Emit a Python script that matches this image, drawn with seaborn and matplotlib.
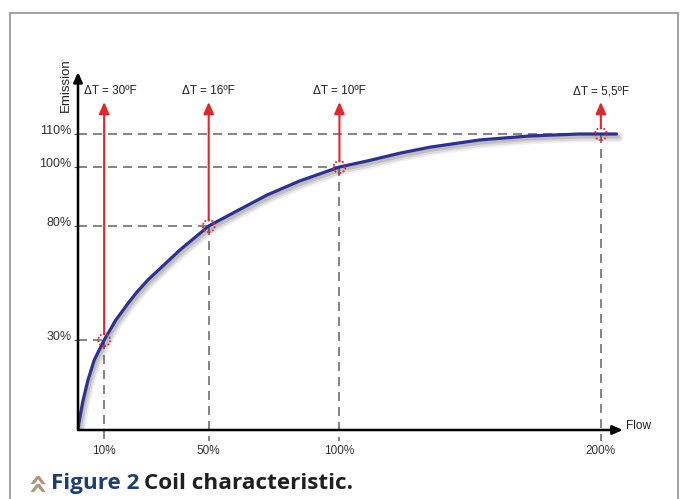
import numpy as np
import pandas as pd
import matplotlib
matplotlib.use('Agg')
import matplotlib.pyplot as plt
import matplotlib.patheffects as pe
from matplotlib.patches import Rectangle
import seaborn as sns

# data
flow_curve = [0, 0.27, 1.8, 3.7, 6.2, 10, 14.5, 19.6, 22.6, 26.7, 39, 50, 59.3,
              72.3, 84.9, 100, 110.5, 123.2, 134.6, 153.7, 172.8, 191.9, 200, 206]
emission_curve = [0, 2.0, 9.3, 16.3, 23.3, 30, 38.8, 46.8, 51.1, 56.3, 69.5, 80,
                  84.4, 90.5, 95.3, 100, 101.8, 104.2, 106, 108.2, 109.4, 110,
                  110, 110]

flow_pts = [10, 50, 100, 200]
emission_pts = [30, 80, 100, 110]
dt_labels = ['ΔT = 30ºF', 'ΔT = 16ºF', 'ΔT = 10ºF', 'ΔT = 5,5ºF']
x_ticklabels = ['10%', '50%', '100%', '200%']
y_ticks = [30, 80, 100, 110]
y_ticklabels = ['30%', '80%', '100%', '110%']

curve = pd.DataFrame({'flow': flow_curve, 'emission': emission_curve})
pts = pd.DataFrame({'flow': flow_pts, 'emission': emission_pts})

# the emission axis of the original sketch is not proportional:
# piecewise scale through the labelled values
axis_vals = [-20, 0, 30, 80, 100, 110, 150]
axis_pos = [-60, 0, 90, 204, 263, 296, 428]


def fwd(v):
    return np.interp(v, axis_vals, axis_pos)


def inv(p):
    return np.interp(p, axis_pos, axis_vals)


sns.set_theme(style='white')
plt.rcParams['font.family'] = ['Liberation Sans', 'DejaVu Sans']

fig = plt.figure(figsize=(6.8, 4.99), dpi=100)
ax = fig.add_axes([78 / 680, 69 / 499, 549 / 680, 360 / 499])
ax.set_yscale('function', functions=(fwd, inv))
ax.set_xlim(0, 210)
ax.set_ylim(0, 129.39)
for s in ax.spines.values():
    s.set_visible(False)

red = '#e3262b'
dash_c = '#707070'
dash = (0, (5.4, 3.6))

# dashed guide lines
for f, e in zip(flow_pts, emission_pts):
    ax.plot([0, f], [e, e], color=dash_c, lw=1.2, ls=dash, zorder=1)
    ax.plot([f, f], [e, -3.5], color=dash_c, lw=1.2, ls=dash, zorder=1, clip_on=False)

# curve with soft shadow
sns.lineplot(data=curve, x='flow', y='emission', ax=ax, color='#2e3192', lw=2.3,
             zorder=3, path_effects=[
                 pe.SimpleLineShadow(offset=(1.5, -2.5), shadow_color='k', alpha=0.06, linewidth=7),
                 pe.SimpleLineShadow(offset=(1.5, -2.5), shadow_color='k', alpha=0.1, linewidth=4.5),
                 pe.SimpleLineShadow(offset=(1.2, -2), shadow_color='k', alpha=0.15, linewidth=2.5),
                 pe.Normal()])

# red arrows + labels
label_x = [12.3, 50, 100, 200]
for f, e, lab, lx in zip(flow_pts, emission_pts, dt_labels, label_x):
    ax.annotate('', xy=(f, 119.7), xytext=(f, e),
                arrowprops=dict(arrowstyle='-|>,head_length=0.5,head_width=0.22',
                                color=red, lw=1.5, mutation_scale=14,
                                shrinkA=4, shrinkB=0), zorder=4)
    ax.text(lx, 122.9, lab, ha='center', va='center', fontsize=8.5, color='#222222')

sns.scatterplot(data=pts, x='flow', y='emission', ax=ax, s=75, facecolor='none',
                edgecolor=red, linewidth=1.3, linestyle=(0, (1, 1)), zorder=5)

# axes as arrows
arrow_kw = dict(arrowstyle='-|>,head_length=0.5,head_width=0.22', color='black',
                lw=1.8, mutation_scale=12, shrinkA=0, shrinkB=0)
ax.annotate('', xy=(208.4, 0), xytext=(0, 0), arrowprops=arrow_kw, annotation_clip=False)
ax.annotate('', xy=(0, 128.8), xytext=(0, 0), arrowprops=arrow_kw, annotation_clip=False)
ax.text(209.5, 1.3, 'Flow', ha='left', va='center', fontsize=8.5, color='#222222')
ax.text(-4.6, 124.8, 'Emission', ha='center', va='center', rotation=90,
        fontsize=9.5, color='#222222')

ax.set_xticks(flow_pts, x_ticklabels)
ax.set_yticks(y_ticks, y_ticklabels)
ax.minorticks_off()
ax.tick_params(axis='x', length=0, pad=11, labelsize=8.5, labelcolor='#333333')
ax.tick_params(axis='y', left=True, length=3, width=0.8, color='#555555', pad=1.5,
               labelsize=9, labelcolor='#333333')
for t in ax.get_yticklabels():
    t.set_va('baseline')
ax.set_xlabel('')
ax.set_ylabel('')

# frame around the chart
fig.add_artist(Rectangle((10 / 680, -0.1), 668 / 680, 1.1 - 13 / 499, fill=False,
                         edgecolor='#8a8a8a', lw=1.1, transform=fig.transFigure))

# caption
cap_y = 1 - 489 / 499
fig.text(37 / 680, 1 - 480 / 499, '»', rotation=90, fontsize=24, fontweight='bold',
         color='#a89a7e', ha='center', va='center', family='DejaVu Sans')
t1 = fig.text(51 / 680, cap_y, 'Figure 2', fontsize=16.2, fontweight='bold',
              color='#1c3f6e', family='Open Sans', va='baseline')
fig.canvas.draw()
bb = t1.get_window_extent()
fig.text((bb.x1 + 5) / 680, cap_y, 'Coil characteristic.', fontsize=16.2,
         fontweight='bold', color='#231f20', family='Open Sans', va='baseline')

fig.savefig('out.png', dpi=100)
